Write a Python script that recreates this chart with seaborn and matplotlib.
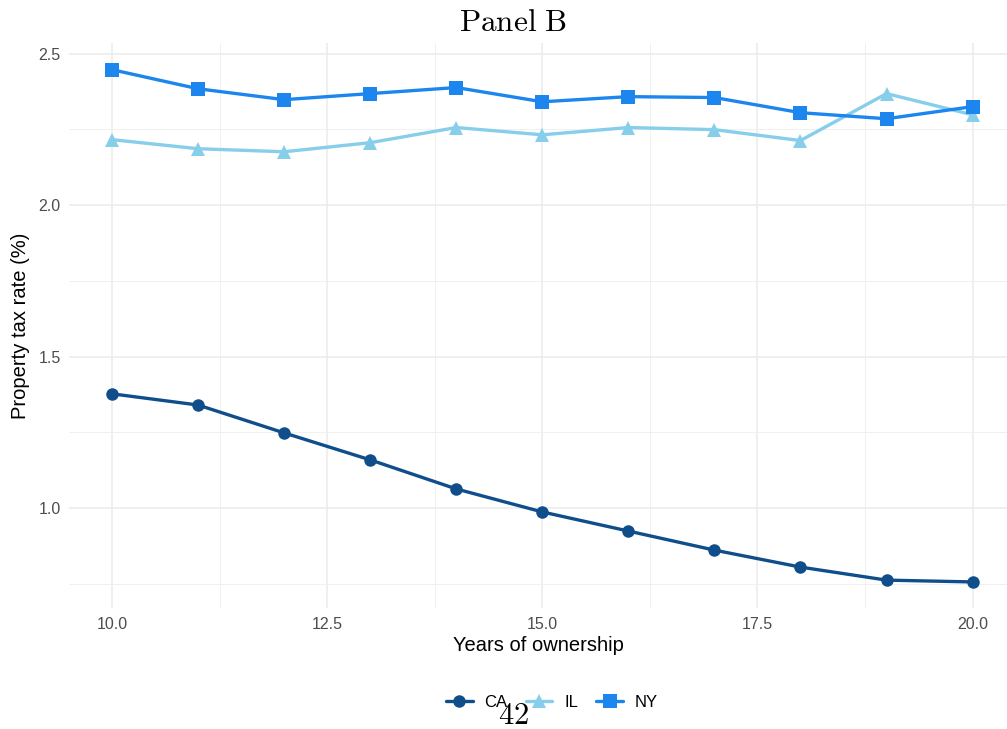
import numpy as np
import pandas as pd
import seaborn as sns
import matplotlib.pyplot as plt
from matplotlib.lines import Line2D
from matplotlib.ticker import MultipleLocator

years = list(range(10, 21))
ca = [1.377, 1.340, 1.248, 1.159, 1.063, 0.987, 0.924, 0.861, 0.805, 0.762, 0.756]
il = [2.216, 2.186, 2.176, 2.206, 2.256, 2.232, 2.256, 2.249, 2.213, 2.368, 2.298]
ny = [2.447, 2.384, 2.348, 2.368, 2.388, 2.341, 2.358, 2.355, 2.305, 2.285, 2.325]
states = ['CA', 'IL', 'NY']

df = pd.DataFrame({
    'year': years * 3,
    'rate': ca + il + ny,
    'state': [s for s in states for _ in years],
})

colors = {'CA': '#104E8B', 'IL': '#87CEEB', 'NY': '#1C86EE'}
markers = {'CA': 'o', 'IL': '^', 'NY': 's'}
msizes = {'CA': 9, 'IL': 10, 'NY': 10}

sns.set_style('white')
plt.rcParams['font.family'] = ['Liberation Sans', 'DejaVu Sans']
plt.rcParams['mathtext.fontset'] = 'cm'
plt.rcParams['text.color'] = 'black'
plt.rcParams['axes.labelcolor'] = 'black'

fig = plt.figure(figsize=(10.07, 7.29), dpi=100)
ax = fig.add_axes([0.0685, 0.166, 0.9315, 0.775])

for s in states:
    sns.lineplot(data=df[df.state == s], x='year', y='rate', color=colors[s],
                 marker=markers[s], markersize=msizes[s], markeredgewidth=0,
                 linewidth=2.4, ax=ax, legend=False, zorder=3)

ax.set_xlim(9.5, 20.4)
ax.set_ylim(0.670, 2.535)
ax.xaxis.set_major_locator(MultipleLocator(2.5))
ax.xaxis.set_minor_locator(MultipleLocator(1.25))
ax.yaxis.set_major_locator(MultipleLocator(0.5))
ax.yaxis.set_minor_locator(MultipleLocator(0.25))
ax.grid(which='major', color='#ebebeb', linewidth=1.1)
ax.grid(which='minor', color='#f0f0f0', linewidth=0.7)
ax.set_axisbelow(True)
for sp in ax.spines.values():
    sp.set_visible(False)
ax.tick_params(which='both', length=0, labelsize=11.5, labelcolor='#4d4d4d')
ax.tick_params(axis='x', pad=6.5)
ax.tick_params(axis='y', pad=6)
ax.set_xticks([10, 12.5, 15, 17.5, 20])
ax.set_xticklabels(['10.0', '12.5', '15.0', '17.5', '20.0'])
ax.set_xlabel('Years of ownership', fontsize=14.5, labelpad=3)
ax.set_ylabel('Property tax rate (%)', fontsize=14.5, labelpad=6)

fig.text(0.51, 0.969, r'$\mathrm{Panel\ B}$', ha='center', va='center', fontsize=22.5)
fig.text(0.51, 0.018, r'$\mathrm{42}$', ha='center', va='center', fontsize=22)

handles = [Line2D([], [], color=colors[s], marker=markers[s], markersize=msizes[s],
                  markeredgewidth=0, linewidth=2.4) for s in states]
fig.legend(handles, states, loc='center', bbox_to_anchor=(0.548, 0.037), ncol=3,
           frameon=False, fontsize=12, handlelength=1.6, columnspacing=1.1,
           handletextpad=0.7)

fig.savefig('out.png', dpi=100)
